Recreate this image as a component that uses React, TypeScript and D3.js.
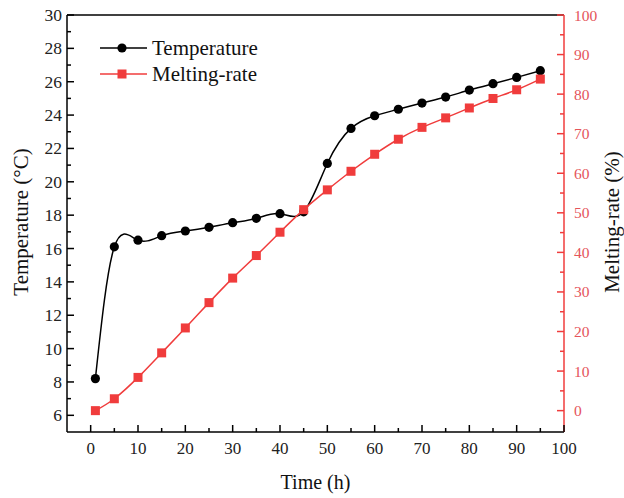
import React from "react";
import * as d3 from "d3";

const hours = [1, 5, 10, 15, 20, 25, 30, 35, 40, 45, 50, 55, 60, 65, 70, 75, 80, 85, 90, 95];
const temperature = [8.2, 16.1, 16.5, 16.77, 17.05, 17.27, 17.55, 17.81, 18.09, 18.2, 21.1, 23.2, 23.96, 24.35, 24.72, 25.08, 25.5, 25.88, 26.26, 26.66];
const meltingRate = [0, 3, 8.4, 14.6, 20.9, 27.3, 33.5, 39.2, 45.1, 50.8, 55.8, 60.5, 64.8, 68.6, 71.6, 74.0, 76.5, 78.9, 81.1, 83.8];
const xTicks = [0, 10, 20, 30, 40, 50, 60, 70, 80, 90, 100];
const yLeftTicks = [6, 8, 10, 12, 14, 16, 18, 20, 22, 24, 26, 28, 30];
const yRightTicks = [0, 10, 20, 30, 40, 50, 60, 70, 80, 90, 100];

const W = 624, H = 498;
const L = 67, R = 564, T = 15, B = 432;
const RED = "#f03c3c";
const FONT = "'Liberation Serif', 'Times New Roman', serif";

export default function App() {
  const x = d3.scaleLinear().domain([-5, 100]).range([L, R]);
  const yL = d3.scaleLinear().domain([5, 30]).range([B, T]);
  const yR = d3.scaleLinear().domain([-5.4, 100]).range([B, T]);

  const tData = hours.map((h, i) => [h, temperature[i]] as [number, number]);
  const mData = hours.map((h, i) => [h, meltingRate[i]] as [number, number]);
  const tLine = d3.line<[number, number]>().x(d => x(d[0])).y(d => yL(d[1])).curve(d3.curveNatural);
  const mLine = d3.line<[number, number]>().x(d => x(d[0])).y(d => yR(d[1])).curve(d3.curveNatural);

  const xMinor = d3.range(5, 100, 10);
  const yLMinor = d3.range(7, 30, 2);
  const yRMinor = d3.range(5, 100, 10);

  return (
    <svg width={W} height={H} style={{ position: "absolute", left: 0, top: 0 }} fontFamily={FONT}>
      <rect width={W} height={H} fill="#fff" />
      {/* frame */}
      <line x1={L} x2={R} y1={T} y2={T} stroke="#000" strokeWidth={1.5} />
      <line x1={L} x2={L} y1={T} y2={B} stroke="#000" strokeWidth={1.5} />
      <line x1={L} x2={R} y1={B} y2={B} stroke="#000" strokeWidth={1.5} />
      <line x1={R} x2={R} y1={T} y2={B} stroke={RED} strokeWidth={1.5} />

      {/* x ticks */}
      {xTicks.map(v => (
        <g key={"x" + v}>
          <line x1={x(v)} x2={x(v)} y1={B} y2={B - 7} stroke="#000" strokeWidth={1.5} />
          <text x={x(v)} y={B + 22} textAnchor="middle" fontSize={17} fill="#222">{v}</text>
        </g>
      ))}
      {xMinor.map(v => (
        <line key={"xm" + v} x1={x(v)} x2={x(v)} y1={B} y2={B - 4} stroke="#000" strokeWidth={1.5} />
      ))}

      {/* left y ticks */}
      {yLeftTicks.map(v => (
        <g key={"yl" + v}>
          <line x1={L} x2={L + 7} y1={yL(v)} y2={yL(v)} stroke="#000" strokeWidth={1.5} />
          <text x={L - 5} y={yL(v) + 6} textAnchor="end" fontSize={17.5} fill="#222">{v}</text>
        </g>
      ))}
      {yLMinor.map(v => (
        <line key={"ylm" + v} x1={L} x2={L + 4} y1={yL(v)} y2={yL(v)} stroke="#000" strokeWidth={1.5} />
      ))}

      {/* right y ticks */}
      {yRightTicks.map(v => (
        <g key={"yr" + v}>
          <line x1={R} x2={R - 7} y1={yR(v)} y2={yR(v)} stroke={RED} strokeWidth={1.5} />
          <text x={R + 10} y={yR(v) + 5.5} textAnchor="start" fontSize={15.5} fill="#e5545a">{v}</text>
        </g>
      ))}
      {yRMinor.map(v => (
        <line key={"yrm" + v} x1={R} x2={R - 4} y1={yR(v)} y2={yR(v)} stroke={RED} strokeWidth={1.5} />
      ))}

      {/* axis titles */}
      <text x={(L + R) / 2} y={489} textAnchor="middle" fontSize={20} fill="#111">Time (h)</text>
      <text transform={`translate(28, 222) rotate(-90)`} textAnchor="middle" fontSize={21} fill="#111">Temperature (°C)</text>
      <text transform={`translate(619, 222) rotate(-90)`} textAnchor="middle" fontSize={21} fill="#111">Melting-rate (%)</text>

      {/* series */}
      <path d={tLine(tData) || ""} fill="none" stroke="#000" strokeWidth={1.5} />
      {tData.map((d, i) => (
        <circle key={"t" + i} cx={x(d[0])} cy={yL(d[1])} r={4.6} fill="#000" />
      ))}
      <path d={mLine(mData) || ""} fill="none" stroke={RED} strokeWidth={1.5} />
      {mData.map((d, i) => (
        <rect key={"m" + i} x={x(d[0]) - 4.5} y={yR(d[1]) - 4.5} width={9} height={9} fill={RED} />
      ))}

      {/* legend */}
      <line x1={100} x2={147} y1={48} y2={48} stroke="#000" strokeWidth={1.5} />
      <circle cx={122} cy={48} r={4.6} fill="#000" />
      <text x={152} y={55} fontSize={21} fill="#111">Temperature</text>
      <line x1={100} x2={147} y1={74} y2={74} stroke={RED} strokeWidth={1.5} />
      <rect x={117.5} y={69.5} width={9} height={9} fill={RED} />
      <text x={152} y={81} fontSize={21} fill="#111">Melting-rate</text>
    </svg>
  );
}
